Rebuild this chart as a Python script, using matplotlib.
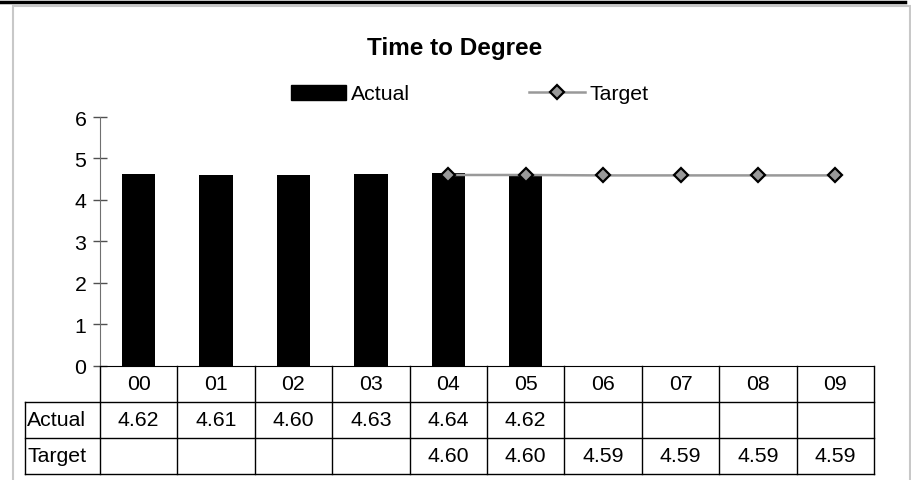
import numpy as np
import matplotlib.pyplot as plt
from matplotlib.lines import Line2D
from matplotlib.patches import Patch, Rectangle
from matplotlib.transforms import blended_transform_factory

plt.rcParams['font.family'] = ['Liberation Sans', 'DejaVu Sans']

# data
years = ['00', '01', '02', '03', '04', '05', '06', '07', '08', '09']
actual = [4.62, 4.61, 4.60, 4.63, 4.64, 4.62, None, None, None, None]
target = [None, None, None, None, 4.60, 4.60, 4.59, 4.59, 4.59, 4.59]

FS = 15.3
W, H = 912, 481
fig = plt.figure(figsize=(W / 100, H / 100), dpi=100)

# outer frame and heavy rule across the top
fig.add_artist(Rectangle((13 / W, 1 - 485 / H), (910 - 13) / W, (485 - 7) / H,
                         transform=fig.transFigure, fill=False,
                         edgecolor='#c8c8c8', linewidth=1.5))
fig.add_artist(Line2D([0, 905 / W], [1 - 3 / H, 1 - 3 / H],
                      transform=fig.transFigure, color='black', linewidth=2.5))

# plot area in pixels
x0, x1 = 100, 874
ytop, ybot = 118, 366.5
ax = fig.add_axes([x0 / W, 1 - ybot / H, (x1 - x0) / W, (ybot - ytop) / H])

n = len(years)
x = np.arange(n)
ax.set_xlim(-0.5, n - 0.5)
ax.set_ylim(0, 6)

ax_x = [i for i in x if actual[i] is not None]
ax_v = [actual[i] for i in ax_x]
ax.bar(ax_x, ax_v, width=0.43, color='black', zorder=2)

tx = [i for i in x if target[i] is not None]
tv = [target[i] for i in tx]
ax.plot(tx, tv, color='#999999', linewidth=1.8, marker='D', markersize=7,
        markerfacecolor='#999999', markeredgecolor='black',
        markeredgewidth=1.6, zorder=3, clip_on=False)

for s in ['top', 'right']:
    ax.spines[s].set_visible(False)
ax.spines['left'].set_color('#707070')
ax.spines['bottom'].set_color('black')
ax.set_xticks([])
ax.set_yticks(range(7))
ax.tick_params(axis='y', direction='inout', length=9.5, width=1,
               color='#505050', labelsize=FS, pad=5)

# data table under the axis
trans = blended_transform_factory(ax.transData, ax.transAxes)
rh = 36 / (ybot - ytop)
label_left = -0.5 - 75 / ((x1 - x0) / n)
lc = 'black'
lw = 1.0
for i in range(n + 1):
    ax.plot([i - 0.5, i - 0.5], [0, -3 * rh], transform=trans, color=lc,
            linewidth=lw, clip_on=False)
ax.plot([label_left, label_left], [-rh, -3 * rh], transform=trans, color=lc,
        linewidth=lw, clip_on=False)
for k in (1, 2, 3):
    ax.plot([label_left, n - 0.5], [-k * rh, -k * rh], transform=trans,
            color=lc, linewidth=lw, clip_on=False)

for i, yr in enumerate(years):
    ax.text(i, -0.5 * rh, yr, transform=trans, ha='center', va='center',
            fontsize=FS)
    if actual[i] is not None:
        ax.text(i, -1.5 * rh, f'{actual[i]:.2f}', transform=trans,
                ha='center', va='center', fontsize=FS)
    if target[i] is not None:
        ax.text(i, -2.5 * rh, f'{target[i]:.2f}', transform=trans,
                ha='center', va='center', fontsize=FS)
for k, name in enumerate(['Actual', 'Target']):
    ax.text(label_left + 0.03, -(k + 1.5) * rh, name, transform=trans,
            ha='left', va='center', fontsize=FS)

fig.text(455 / W, 1 - 48 / H, 'Time to Degree', ha='center', va='center',
         fontsize=17.5, fontweight='bold')

handles = [Patch(facecolor='black', edgecolor='black'),
           Line2D([], [], color='#999999', linewidth=1.8, marker='D',
                  markersize=7, markerfacecolor='#999999',
                  markeredgecolor='black', markeredgewidth=1.6)]
fig.legend(handles, ['Actual', 'Target'], ncol=2, frameon=False,
           loc='center', bbox_to_anchor=(470 / W, 1 - 95 / H), fontsize=FS,
           handlelength=2.6, handleheight=0.7, handletextpad=0.25,
           columnspacing=5.6)

fig.savefig('out.png', dpi=100)
